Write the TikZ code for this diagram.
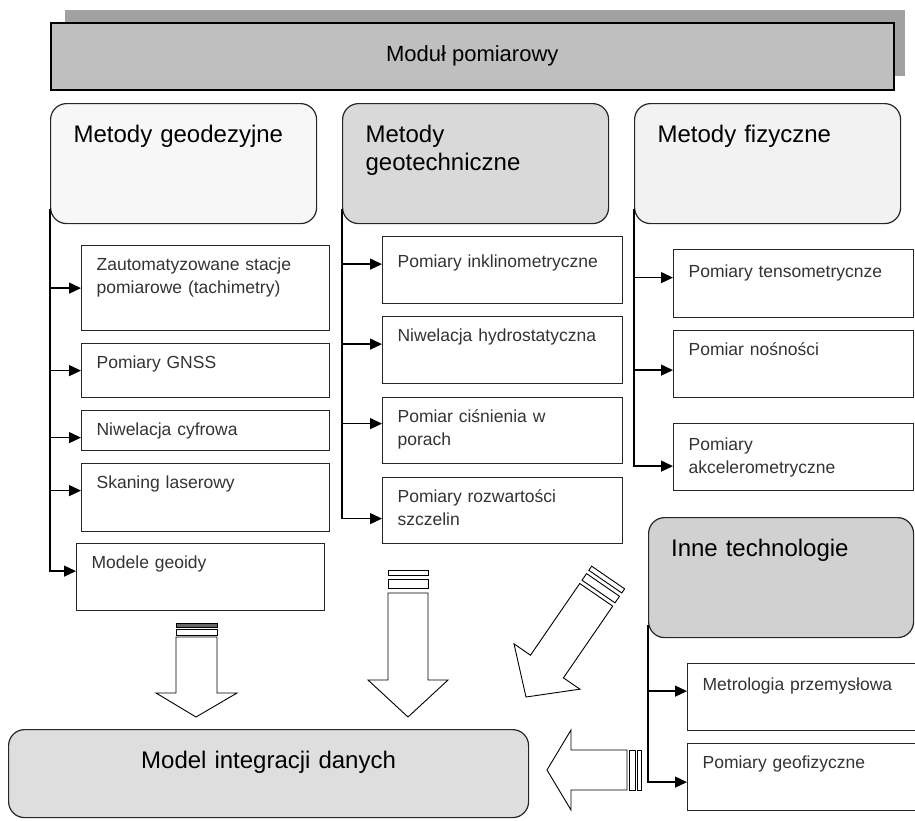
\documentclass[tikz,border=0pt]{standalone}
\usepackage{fontspec}
\setmainfont{Liberation Sans}
\usetikzlibrary{arrows.meta}

\begin{document}
\begin{tikzpicture}[x=1pt,y=1pt,
    naglowek/.style={draw=black!85,line width=1.2pt,rounded corners=16pt,anchor=north west,
      minimum width=266pt,minimum height=120pt,text width=220pt,align=left,
      inner xsep=23pt,inner ysep=0pt,font=\fontsize{24}{28}\selectfont,
      text height=39pt,text depth=81pt},
    pole/.style={draw=black!85,line width=1.2pt,anchor=north west,text width=#1,align=left,
      inner xsep=15pt,inner ysep=0pt,font=\fontsize{17.5}{23}\selectfont,text=black!80,
      text height=25pt},
    pole/.default=210pt,
    galaz/.style={line width=1.3pt,-{Triangle[length=12pt,width=11pt]}},
    blok/.style={draw,line width=0.9pt,fill=white}]
    \useasboundingbox (0,0) rectangle (915,-820);

    % modul pomiarowy
    \fill[black!37] (65,-10) rectangle (905,-76);
    \node[draw,line width=1.5pt,fill=black!25,anchor=north west,minimum width=843pt,
          minimum height=67pt,font=\fontsize{22}{26}\selectfont] (modul) at (50,-22) {Moduł pomiarowy};

    % naglowki
    \node[naglowek,fill=black!3] (hgeo) at (50,-103) {Metody geodezyjne};
    \node[naglowek,fill=black!15] (htech) at (342,-103) {Metody\\geotechniczne};
    \node[naglowek,fill=black!5] (hfiz) at (634,-103) {Metody fizyczne};
    \node[naglowek,fill=black!18,minimum width=265pt,text width=220pt,inner xsep=22.5pt] (hinne) at (648,-517) {Inne technologie};

    % metody geodezyjne
    \node[pole=218pt,text depth=60pt] (g1) at (81,-245) {Zautomatyzowane stacje\\pomiarowe (tachimetry)};
    \node[pole=218pt,text depth=29pt] (g2) at (81,-343) {Pomiary GNSS};
    \node[pole=218pt,text depth=15pt] (g3) at (81,-410) {Niwelacja cyfrowa};
    \node[pole=218pt,text depth=43pt] (g4) at (81,-463) {Skaning laserowy};
    \node[pole=218pt,text depth=42pt] (g5) at (76,-543) {Modele geoidy};

    % metody geotechniczne
    \node[pole,text height=31pt,text depth=36pt] (t1) at (382,-236) {Pomiary inklinometryczne};
    \node[pole,text depth=42pt] (t2) at (382,-316) {Niwelacja hydrostatyczna};
    \node[pole,text depth=41pt] (t3) at (382,-397) {Pomiar ciśnienia w\\porach};
    \node[pole,text depth=41pt] (t4) at (382,-477) {Pomiary rozwartości\\szczelin};

    % metody fizyczne
    \node[pole,text height=28pt,text depth=40pt] (f1) at (673,-249) {Pomiary tensometrycnze};
    \node[pole,text depth=42pt] (f2) at (673,-330) {Pomiar nośności};
    \node[pole,text height=27pt,text depth=40pt] (f3) at (673,-423) {Pomiary\\akcelerometryczne};

    % inne technologie
    \node[pole=198pt,text height=27pt,text depth=40pt] (i1) at (687,-663) {Metrologia przemysłowa};
    \node[pole=198pt,text depth=42pt] (i2) at (687,-743) {Pomiary geofizyczne};

    % model
    \node[draw=black!85,line width=1.2pt,rounded corners=16pt,fill=black!13,anchor=north west,
          text width=520pt,align=center,inner sep=0pt,text height=39pt,text depth=49pt,
          font=\fontsize{24}{28}\selectfont] (model) at (8,-729) {Model integracji danych};

    % galezie
    \draw[galaz] ([yshift=15pt]hgeo.south west) |- (g1.west);
    \draw[galaz] ([yshift=15pt]hgeo.south west) |- (g2.west);
    \draw[galaz] ([yshift=15pt]hgeo.south west) |- ([yshift=-7pt]g3.west);
    \draw[galaz] ([yshift=15pt]hgeo.south west) |- ([yshift=7pt]g4.west);
    \draw[galaz] ([yshift=15pt]hgeo.south west) |- ([yshift=6pt]g5.west);

    \draw[galaz] ([yshift=15pt]htech.south west) |- ([yshift=6pt]t1.west);
    \draw[galaz] ([yshift=15pt]htech.south west) |- ([yshift=6pt]t2.west);
    \draw[galaz] ([yshift=15pt]htech.south west) |- ([yshift=7pt]t3.west);
    \draw[galaz] ([yshift=15pt]htech.south west) |- ([yshift=-8pt]t4.west);

    \draw[galaz] ([yshift=15pt]hfiz.south west) |- ([yshift=6pt]f1.west);
    \draw[galaz] ([yshift=15pt]hfiz.south west) |- ([yshift=-6pt]f2.west);
    \draw[galaz] ([yshift=15pt]hfiz.south west) |- ([yshift=-9pt]f3.west);

    \draw[galaz] ([yshift=13pt]hinne.south west) |- ([yshift=6pt]i1.west);
    \draw[galaz] ([yshift=13pt]hinne.south west) |- ([yshift=-5pt]i2.west);

    % strzalki blokowe
    \draw[blok] (196,-717) -- (156,-693) -- (176,-693) -- (176,-637) -- (217,-637)
        -- (217,-693) -- (237,-693) -- cycle;
    \draw[blok,fill=black!60] (176,-623) rectangle (217,-627);
    \draw[blok] (176,-629) rectangle (217,-635);

    \draw[blok] (408,-717) -- (368,-680) -- (388,-680) -- (388,-593) -- (428,-593)
        -- (428,-680) -- (448,-680) -- cycle;
    \draw[blok] (388,-570) rectangle (428,-575);
    \draw[blok] (388,-579) rectangle (428,-588);

    \begin{scope}[shift={(526,-697)},rotate=-34.5]
        \draw[blok] (0,0) -- (-40,37) -- (-20,37) -- (-20,124) -- (20,124) -- (20,37)
            -- (40,37) -- cycle;
        \draw[blok] (-20,128) rectangle (20,136);
        \draw[blok] (-20,140) rectangle (20,145);
    \end{scope}

    \draw[blok] (547,-770) -- (571,-730) -- (571,-750) -- (627,-750) -- (627,-790)
        -- (571,-790) -- (571,-810) -- cycle;
    \draw[blok] (629,-750) rectangle (635,-790);
    \draw[blok] (637,-750) rectangle (641,-790);
\end{tikzpicture}
\end{document}
